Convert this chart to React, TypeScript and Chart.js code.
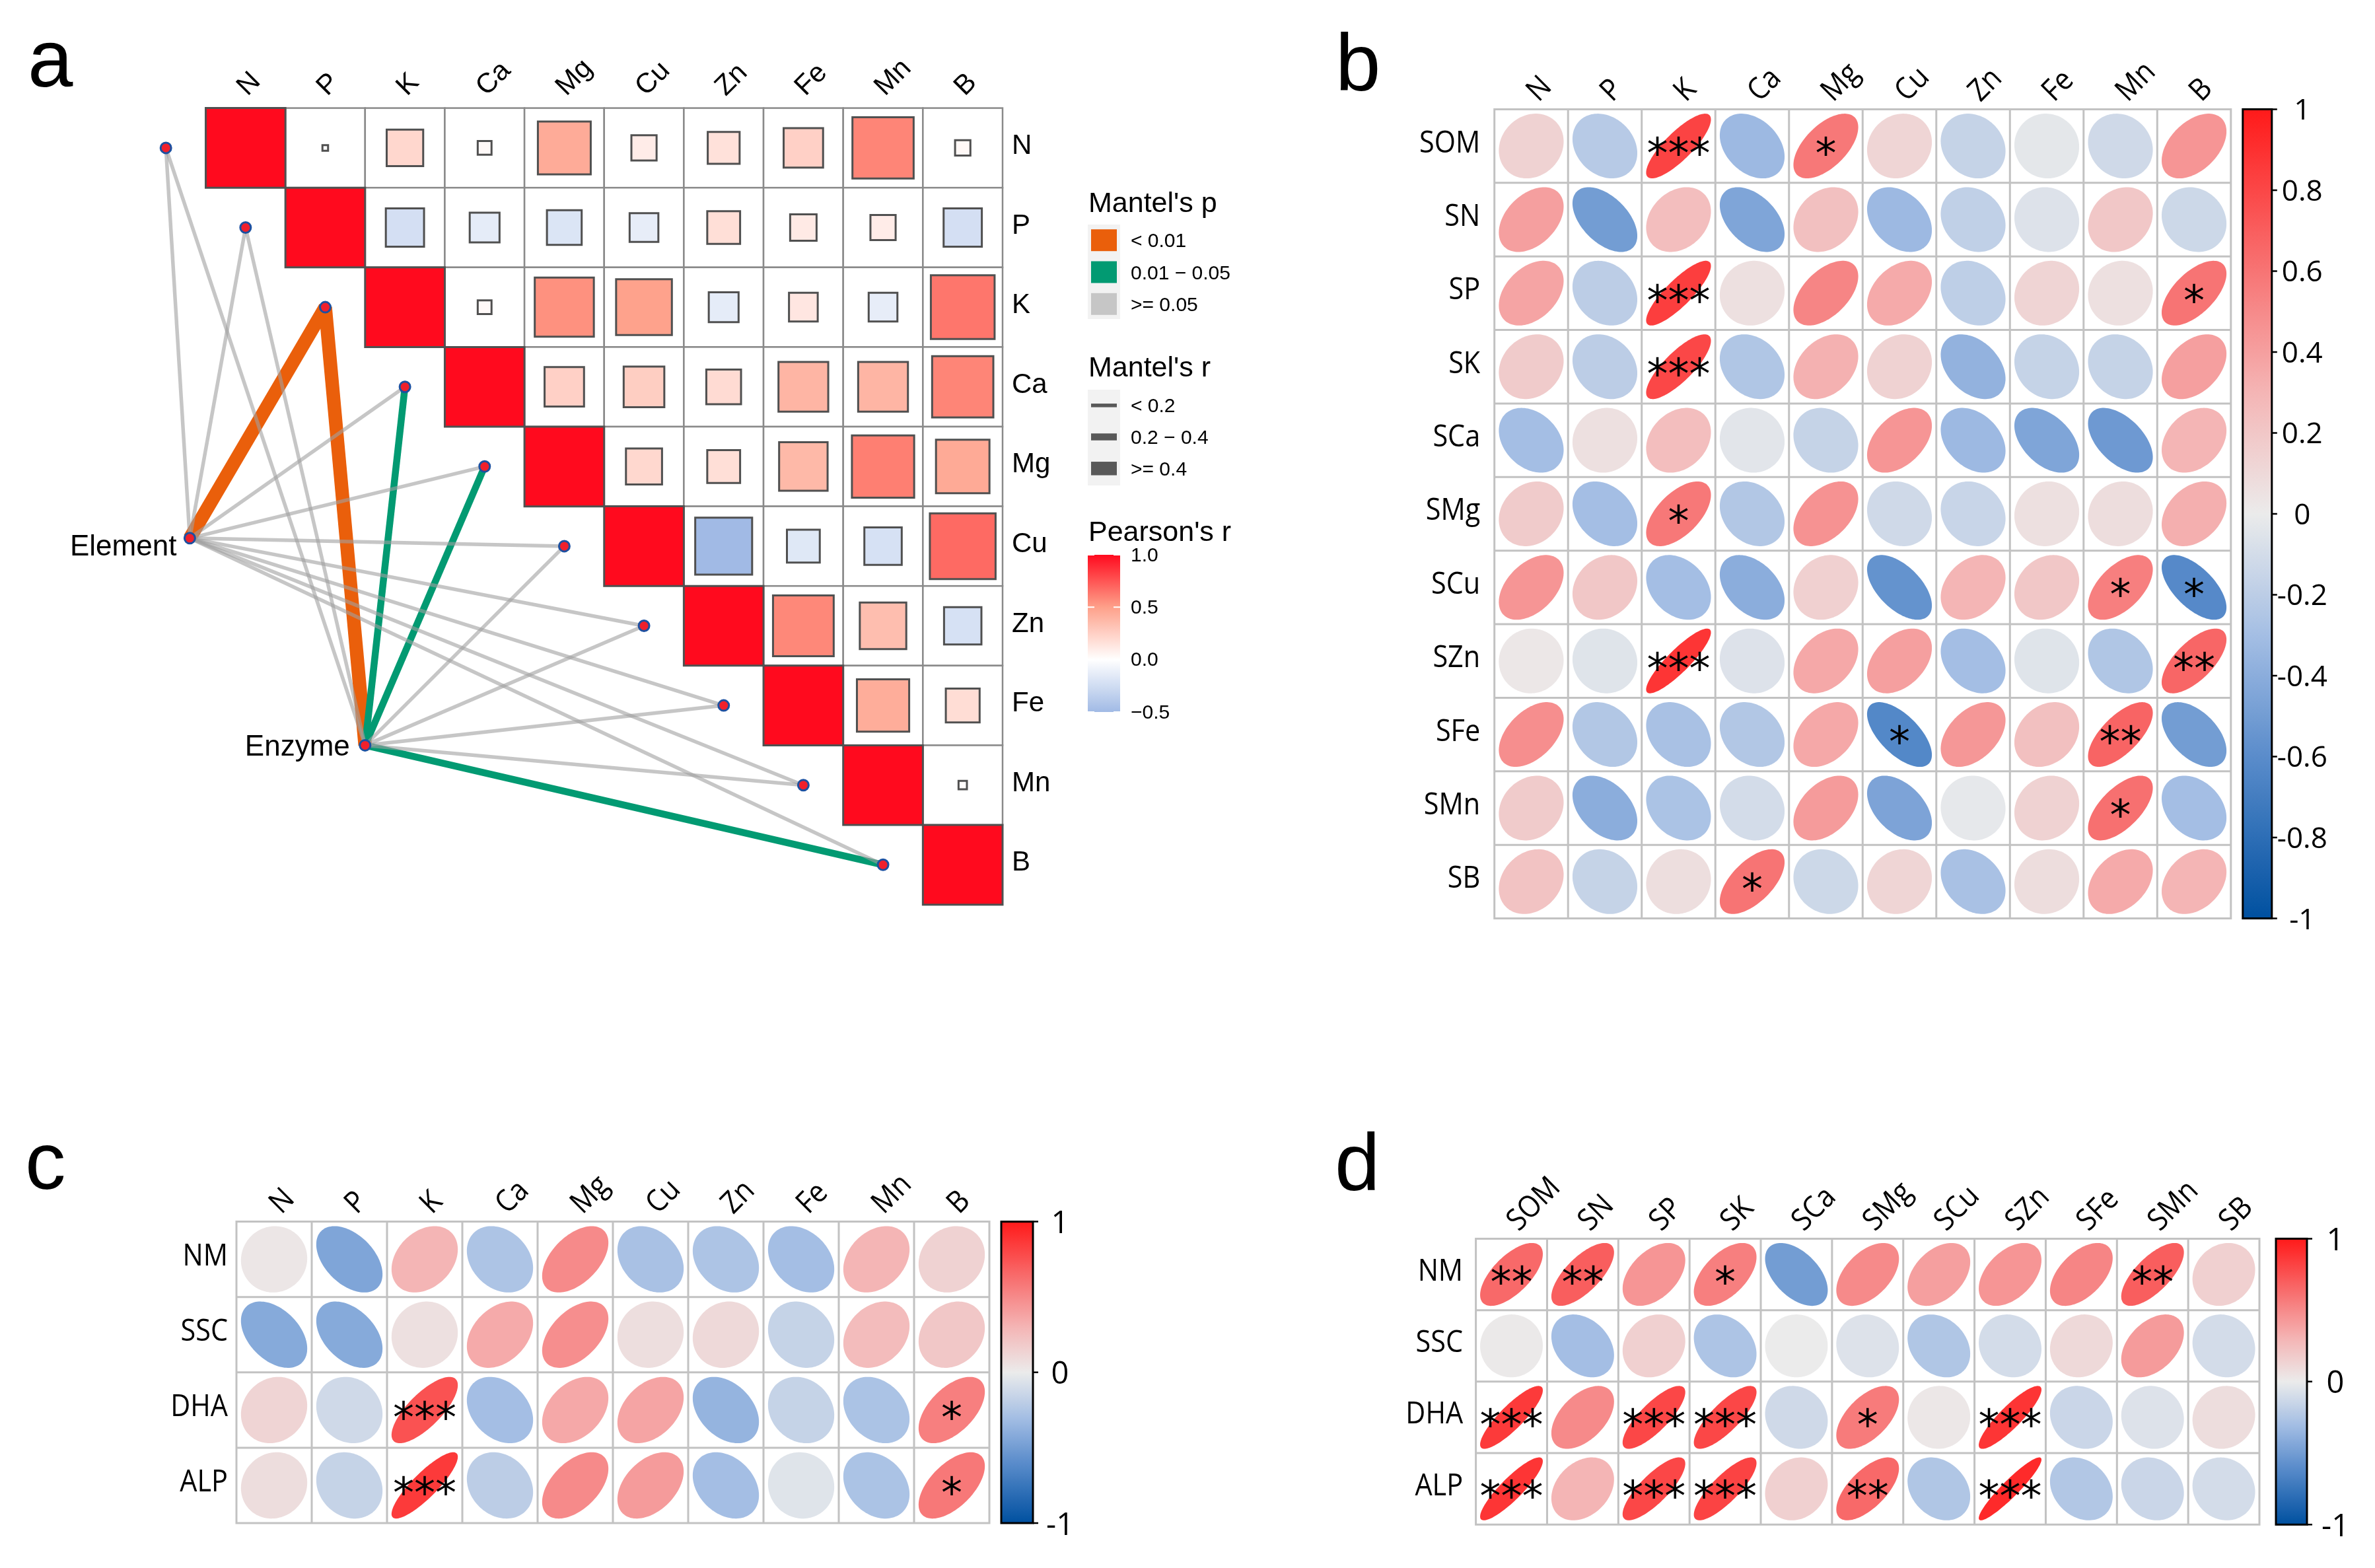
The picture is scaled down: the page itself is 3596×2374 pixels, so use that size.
import React, { useEffect, useRef } from 'react';
import { Chart, registerables } from 'chart.js';

Chart.register(...registerables);

// ======================= DATA =======================
// ---- panel a: Pearson's r among soil elements (upper triangle; each row starts at its diagonal)
const elementNames = ['N', 'P', 'K', 'Ca', 'Mg', 'Cu', 'Zn', 'Fe', 'Mn', 'B'];
const pearsonRowN = [1, 0.005, 0.21, 0.03, 0.44, 0.1, 0.16, 0.245, 0.59, 0.037];
const pearsonRowP = [1, -0.23, -0.14, -0.19, -0.13, 0.17, 0.11, 0.1, -0.23];
const pearsonRowK = [1, 0.03, 0.55, 0.49, -0.14, 0.13, -0.13, 0.64];
const pearsonRowCa = [1, 0.245, 0.26, 0.19, 0.39, 0.39, 0.59];
const pearsonRowMg = [1, 0.205, 0.17, 0.37, 0.61, 0.45];
const pearsonRowCu = [1, -0.51, -0.17, -0.22, 0.68];
const pearsonRowZn = [1, 0.58, 0.34, -0.22];
const pearsonRowFe = [1, 0.43, 0.18];
const pearsonRowMn = [1, 0.011];
const pearsonRowB = [1];

// ---- panel a: Mantel tests (class indices into the legend classes)
const mantelGroups = ['Element', 'Enzyme'];
const mantelPClasses = ['< 0.01', '0.01 \u2212 0.05', '>= 0.05'];
const mantelRClasses = ['< 0.2', '0.2 \u2212 0.4', '>= 0.4'];
const elementMantelP = [2, 2, 0, 2, 2, 2, 2, 2, 2, 2];
const elementMantelR = [0, 0, 2, 0, 0, 0, 0, 0, 0, 0];
const enzymeMantelP = [2, 2, 0, 1, 1, 2, 2, 2, 2, 1];
const enzymeMantelR = [0, 0, 2, 1, 1, 0, 0, 0, 0, 1];
const pearsonLegendTicks = [1, 0.5, 0, -0.5];
const pearsonLegendLabels = ['1.0', '0.5', '0.0', '\u22120.5'];

// ---- panel b: soil variables (rows) vs elements (cols)
const soilNames = ['SOM', 'SN', 'SP', 'SK', 'SCa', 'SMg', 'SCu', 'SZn', 'SFe', 'SMn', 'SB'];
const bSOM = [0.14, -0.22, 0.82, -0.33, 0.58, 0.12, -0.16, -0.03, -0.12, 0.45];
const bSN = [0.4, -0.5, 0.25, -0.45, 0.24, -0.33, -0.18, -0.06, 0.2, -0.13];
const bSP = [0.38, -0.2, 0.84, 0.06, 0.52, 0.35, -0.19, 0.13, 0.06, 0.6];
const bSK = [0.18, -0.2, 0.8, -0.25, 0.32, 0.14, -0.37, -0.16, -0.16, 0.4];
const bSCa = [-0.3, 0.06, 0.25, -0.04, -0.16, 0.45, -0.33, -0.45, -0.52, 0.3];
const bSMg = [0.18, -0.3, 0.58, -0.24, 0.46, -0.12, -0.15, 0.06, 0.08, 0.33];
const bSCu = [0.45, 0.2, -0.3, -0.4, 0.15, -0.56, 0.3, 0.2, 0.55, -0.62];
const bSZn = [0.02, -0.05, 0.88, -0.06, 0.36, 0.4, -0.3, -0.05, -0.25, 0.66];
const bSFe = [0.48, -0.24, -0.28, -0.24, 0.36, -0.63, 0.44, 0.24, 0.67, -0.5];
const bSMn = [0.18, -0.4, -0.27, -0.1, 0.42, -0.46, -0.02, 0.14, 0.62, -0.3];
const bSB = [0.22, -0.16, 0.07, 0.6, -0.13, 0.12, -0.28, 0.08, 0.35, 0.3];
const bSignif = [
  ['SOM', 'K', '***'], ['SOM', 'Mg', '*'], ['SP', 'K', '***'], ['SP', 'B', '*'],
  ['SK', 'K', '***'], ['SMg', 'K', '*'], ['SCu', 'Mn', '*'], ['SCu', 'B', '*'],
  ['SZn', 'K', '***'], ['SZn', 'B', '**'], ['SFe', 'Cu', '*'], ['SFe', 'Mn', '**'],
  ['SMn', 'Mn', '*'], ['SB', 'Ca', '*'],
];
const bColorbarTicks = [1, 0.8, 0.6, 0.4, 0.2, 0, -0.2, -0.4, -0.6, -0.8, -1];

// ---- panel c: plant traits (rows) vs elements (cols)
const traitNames = ['NM', 'SSC', 'DHA', 'ALP'];
const cNM = [0.03, -0.45, 0.3, -0.26, 0.5, -0.28, -0.26, -0.3, 0.3, 0.14];
const cSSC = [-0.42, -0.42, 0.06, 0.35, 0.48, 0.07, 0.1, -0.16, 0.26, 0.2];
const cDHA = [0.13, -0.12, 0.75, -0.3, 0.36, 0.38, -0.36, -0.16, -0.27, 0.55];
const cALP = [0.08, -0.16, 0.86, -0.2, 0.5, 0.42, -0.3, -0.05, -0.27, 0.58];
const cSignif = [['DHA', 'K', '***'], ['DHA', 'B', '*'], ['ALP', 'K', '***'], ['ALP', 'B', '*']];

// ---- panel d: plant traits (rows) vs soil variables (cols)
const dNM = [0.65, 0.7, 0.45, 0.55, -0.5, 0.5, 0.4, 0.45, 0.52, 0.7, 0.15];
const dSSC = [0.01, -0.3, 0.15, -0.26, 0.0, -0.06, -0.25, -0.1, 0.1, 0.42, -0.1];
const dDHA = [0.86, 0.5, 0.8, 0.8, -0.12, 0.57, 0.02, 0.88, -0.14, -0.06, 0.08];
const dALP = [0.88, 0.3, 0.8, 0.82, 0.15, 0.65, -0.25, 0.93, -0.24, -0.14, -0.1];
const dSignif = [
  ['NM', 'SOM', '**'], ['NM', 'SN', '**'], ['NM', 'SK', '*'], ['NM', 'SMn', '**'],
  ['DHA', 'SOM', '***'], ['DHA', 'SP', '***'], ['DHA', 'SK', '***'], ['DHA', 'SMg', '*'], ['DHA', 'SZn', '***'],
  ['ALP', 'SOM', '***'], ['ALP', 'SP', '***'], ['ALP', 'SK', '***'], ['ALP', 'SMg', '**'], ['ALP', 'SZn', '***'],
];
const cdColorbarTicks = [1, 0, -1];

// ======================= STYLE / LAYOUT =======================
const FONT_A = '"Liberation Sans", Arial, sans-serif';
const FONT_C = '"Open Sans", "Noto Sans", sans-serif';
const FONT_STAR = '"DejaVu Sans", sans-serif';

type RGB = [number, number, number];
const CORR_STOPS: Array<[number, RGB]> = [
  [-1, [0, 80, 160]], [-0.6, [90, 140, 203]], [-0.3, [164, 190, 228]], [0, [235, 235, 235]],
  [0.3, [244, 181, 181]], [0.6, [247, 116, 116]], [1, [255, 26, 26]],
];
const LINK_STOPS: Array<[number, RGB]> = [
  [-0.5, [161, 186, 229]], [0, [255, 255, 255]], [0.5, [254, 160, 138]], [1, [255, 10, 30]],
];
const EDGE_COLORS = ['#EA5F0B', '#029A72', 'rgba(160,160,160,0.6)'];
const KEY_COLORS = ['#EA5F0B', '#029A72', '#C6C6C6'];
const EDGE_WIDTHS = [5.5, 10.5, 20.5];
// anchor nodes of the Mantel network, in matrix cell units
const ANCHORS: Record<string, { x: number; y: number }> = {
  Element: { x: -0.2, y: 5.4 },
  Enzyme: { x: 2.0, y: 8.0 },
};

function ramp(stops: Array<[number, RGB]>, v: number): string {
  const t = Math.max(stops[0][0], Math.min(stops[stops.length - 1][0], v));
  for (let k = 0; k < stops.length - 1; k++) {
    const [a, ca] = stops[k];
    const [b, cb] = stops[k + 1];
    if (t >= a && t <= b) {
      const f = (t - a) / (b - a);
      const c = ca.map((x, i) => Math.round(x + (cb[i] - x) * f));
      return `rgb(${c[0]},${c[1]},${c[2]})`;
    }
  }
  const c = stops[stops.length - 1][1];
  return `rgb(${c[0]},${c[1]},${c[2]})`;
}

// ======================= PANEL A =======================
const panelAPlugin = {
  id: 'panelA',
  beforeDatasetsDraw(chart: any) {
    const { ctx } = chart;
    const xs = chart.scales.x;
    const ys = chart.scales.y;
    const n = elementNames.length;
    ctx.save();
    ctx.lineWidth = 2.5;
    ctx.strokeStyle = '#8A8A8A';
    ctx.fillStyle = '#ffffff';
    for (let i = 0; i < n; i++) {
      for (let j = i + 1; j < n; j++) {
        const x0 = xs.getPixelForValue(j);
        const x1 = xs.getPixelForValue(j + 1);
        const y0 = ys.getPixelForValue(i);
        const y1 = ys.getPixelForValue(i + 1);
        ctx.fillRect(x0, y0, x1 - x0, y1 - y0);
        ctx.strokeRect(x0, y0, x1 - x0, y1 - y0);
      }
    }
    ctx.restore();
  },
  afterDatasetsDraw(chart: any) {
    const { ctx } = chart;
    const xs = chart.scales.x;
    const ys = chart.scales.y;
    const gridTop = ys.getPixelForValue(0);
    const gridRight = xs.getPixelForValue(elementNames.length);
    ctx.save();
    ctx.fillStyle = '#000';
    // column labels (rotated)
    ctx.font = `42px ${FONT_A}`;
    ctx.textAlign = 'left';
    ctx.textBaseline = 'alphabetic';
    elementNames.forEach((name, j) => {
      const cx = xs.getPixelForValue(j + 0.5);
      ctx.save();
      ctx.translate(cx + 3, gridTop - 17);
      ctx.rotate(-Math.PI / 4);
      ctx.fillText(name, 0, 0);
      ctx.restore();
    });
    // row labels
    elementNames.forEach((name, i) => {
      const cy = ys.getPixelForValue(i + 0.5);
      ctx.fillText(name, gridRight + 14, cy + 9);
    });
    // group labels
    ctx.font = `44px ${FONT_A}`;
    ctx.textAlign = 'right';
    const e = ANCHORS.Element;
    ctx.fillText('Element', xs.getPixelForValue(e.x) - 20, ys.getPixelForValue(e.y) + 26);
    const z = ANCHORS.Enzyme;
    ctx.fillText('Enzyme', xs.getPixelForValue(z.x) - 23, ys.getPixelForValue(z.y) + 16);

    // ---------------- legend ----------------
    const LX = 1647;
    ctx.textAlign = 'left';
    ctx.font = `43px ${FONT_A}`;
    ctx.fillText("Mantel's p", LX + 1, 321);
    ctx.fillText("Mantel's r", LX + 1, 570);
    ctx.fillText("Pearson's r", LX + 1, 819);
    ctx.fillStyle = '#F2F2F2';
    ctx.fillRect(LX, 340, 49, 143);
    ctx.fillRect(LX, 590, 49, 145);
    ctx.font = `30px ${FONT_A}`;
    const pCenters = [363.7, 412, 460.3];
    mantelPClasses.forEach((lab, k) => {
      ctx.fillStyle = KEY_COLORS[k];
      ctx.fillRect(LX + 5, pCenters[k] - 16.5, 39, 33);
      ctx.fillStyle = '#000';
      ctx.fillText(lab, 1712, pCenters[k] + 10.5);
    });
    const rCenters = [613.8, 661.5, 709.3];
    mantelRClasses.forEach((lab, k) => {
      ctx.fillStyle = '#595959';
      ctx.fillRect(LX + 5, rCenters[k] - EDGE_WIDTHS[k] / 2, 39, EDGE_WIDTHS[k]);
      ctx.fillStyle = '#000';
      ctx.fillText(lab, 1712, rCenters[k] + 10.5);
    });
    // Pearson colour bar
    const cbTop = 840;
    const cbBot = 1078;
    const vy = (v: number) => cbTop + ((1 - v) / 1.5) * (cbBot - cbTop);
    const grad = ctx.createLinearGradient(0, cbTop, 0, cbBot);
    for (let k = 0; k <= 30; k++) {
      const v = 1 - (k / 30) * 1.5;
      grad.addColorStop(k / 30, ramp(LINK_STOPS, v));
    }
    ctx.fillStyle = grad;
    ctx.fillRect(LX, cbTop, 49, cbBot - cbTop);
    ctx.strokeStyle = '#ffffff';
    ctx.lineWidth = 2;
    pearsonLegendTicks.forEach((t) => {
      const y = vy(t);
      ctx.beginPath();
      ctx.moveTo(LX, y); ctx.lineTo(LX + 10, y);
      ctx.moveTo(LX + 39, y); ctx.lineTo(LX + 49, y);
      ctx.stroke();
    });
    ctx.fillStyle = '#000';
    pearsonLegendTicks.forEach((t, k) => {
      ctx.fillText(pearsonLegendLabels[k], 1712, vy(t) + 9.5);
    });

    // panel letter
    ctx.font = `123px ${FONT_A}`;
    ctx.fillText('a', 42, 131);
    ctx.restore();
  },
};

function buildPanelA(canvas: HTMLCanvasElement) {
  const rows = [pearsonRowN, pearsonRowP, pearsonRowK, pearsonRowCa, pearsonRowMg,
    pearsonRowCu, pearsonRowZn, pearsonRowFe, pearsonRowMn, pearsonRowB];
  const cells: any[] = [];
  rows.forEach((row, i) => row.forEach((v, k) => {
    cells.push({ x: i + k + 0.5, y: i + 0.5, v, diag: k === 0 });
  }));
  const nodes = elementNames.map((_, i) => ({ x: i - 0.5, y: i + 0.5 }));
  const pClasses = [elementMantelP, enzymeMantelP];
  const rClasses = [elementMantelR, enzymeMantelR];
  const edges: any[] = [];
  mantelGroups.forEach((g, gi) => {
    nodes.forEach((nd, i) => {
      edges.push({ from: ANCHORS[g], to: nd, p: pClasses[gi][i], r: rClasses[gi][i] });
    });
  });
  // significant links underneath, grey links on top (translucent)
  const ordered = [...edges.filter((e) => e.p !== 2), ...edges.filter((e) => e.p === 2)];
  const edgeSets = ordered.map((e, k) => ({
    type: 'line',
    data: [{ x: e.from.x, y: e.from.y }, { x: e.to.x, y: e.to.y }],
    borderColor: EDGE_COLORS[e.p],
    borderWidth: EDGE_WIDTHS[e.r],
    borderCapStyle: 'butt',
    pointRadius: 0,
    showLine: true,
    tension: 0,
    clip: false,
    order: 1000 - k,
  }));
  const cellSize = (c: any) => {
    const xs = c.chart.scales.x;
    return xs.getPixelForValue(1) - xs.getPixelForValue(0);
  };
  const squareSet = {
    type: 'scatter',
    data: cells,
    pointStyle: 'rect',
    pointRadius: (c: any) => (c.raw ? (Math.sqrt(Math.abs(c.raw.v)) * cellSize(c)) / Math.SQRT2 : 0),
    pointBackgroundColor: (c: any) => (c.raw ? ramp(LINK_STOPS, c.raw.v) : '#fff'),
    pointBorderColor: '#505050',
    pointBorderWidth: 3,
    clip: false,
    order: 5000,
  };
  const nodeSet = {
    type: 'scatter',
    data: [...nodes.map((p) => ({ ...p })), ...mantelGroups.map((g) => ({ ...ANCHORS[g] }))],
    pointStyle: 'circle',
    pointRadius: 8,
    pointBackgroundColor: '#F0202C',
    pointBorderColor: '#1D50A0',
    pointBorderWidth: 3,
    clip: false,
    order: 0,
  };
  // x range starts left of the matrix so the network nodes lie inside the chart area
  return new Chart(canvas, {
    type: 'scatter',
    data: { datasets: [squareSet, ...edgeSets, nodeSet] as any },
    options: {
      responsive: false,
      animation: false,
      events: [],
      layout: { padding: { left: 9.875, top: 163.6, right: 472, bottom: 80.4 }, autoPadding: false } as any,
      scales: {
        x: { type: 'linear', min: -2.5, max: 10, display: false },
        y: { type: 'linear', min: 0, max: 10, reverse: true, display: false },
      },
      plugins: { legend: { display: false }, tooltip: { enabled: false } },
    } as any,
    plugins: [panelAPlugin],
  });
}

// ======================= PANELS B, C, D =======================
interface CorrSpec {
  letter: string; letterX: number; letterY: number;
  rowNames: string[]; colNames: string[]; values: number[][]; signif: string[][];
  pad: { left: number; top: number; right: number; bottom: number };
  rowGap: number; cbOffset: number; cbWidth: number; cbLabelOffset: number; cbFont: number; cbTicks: number[];
}

function drawEllipse(ctx: CanvasRenderingContext2D, cx: number, cy: number, rx: number, ry: number, r: number) {
  const d = Math.acos(Math.max(-1, Math.min(1, r)));
  ctx.beginPath();
  const N = 120;
  for (let k = 0; k <= N; k++) {
    const t = (k / N) * Math.PI * 2;
    const px = cx + rx * Math.cos(t + d / 2);
    const py = cy - ry * Math.cos(t - d / 2);
    if (k === 0) ctx.moveTo(px, py); else ctx.lineTo(px, py);
  }
  ctx.closePath();
  ctx.fillStyle = ramp(CORR_STOPS, r);
  ctx.fill();
}

function corrPlugin(spec: CorrSpec) {
  return {
    id: 'corr_' + spec.letter,
    beforeDatasetsDraw(chart: any) {
      const { ctx, chartArea: area } = chart;
      const xs = chart.scales.x;
      const ys = chart.scales.y;
      ctx.save();
      ctx.fillStyle = '#fff';
      ctx.fillRect(area.left, area.top, area.right - area.left, area.bottom - area.top);
      ctx.strokeStyle = '#C2C2C2';
      ctx.lineWidth = 3;
      ctx.lineCap = 'square';
      ctx.beginPath();
      for (let j = 0; j <= spec.colNames.length; j++) {
        const x = xs.getPixelForValue(j);
        ctx.moveTo(x, area.top); ctx.lineTo(x, area.bottom);
      }
      for (let i = 0; i <= spec.rowNames.length; i++) {
        const y = ys.getPixelForValue(i);
        ctx.moveTo(area.left, y); ctx.lineTo(area.right, y);
      }
      ctx.stroke();
      ctx.restore();
    },
    afterDatasetsDraw(chart: any) {
      const { ctx, chartArea: area } = chart;
      const xs = chart.scales.x;
      const ys = chart.scales.y;
      const cb = chart.scales.cb;
      const meta = chart.getDatasetMeta(0);
      const raw = chart.data.datasets[0].data;
      const cw = xs.getPixelForValue(1) - xs.getPixelForValue(0);
      const ch = Math.abs(ys.getPixelForValue(1) - ys.getPixelForValue(0));
      ctx.save();
      meta.data.forEach((el: any, k: number) => {
        drawEllipse(ctx, el.x, el.y, 0.44 * cw, 0.44 * ch, raw[k].v);
      });
      // significance stars
      ctx.fillStyle = '#000';
      ctx.font = `64px ${FONT_STAR}`;
      ctx.textAlign = 'center';
      ctx.textBaseline = 'alphabetic';
      const sm = ctx.measureText('*');
      const sOff = (sm.actualBoundingBoxAscent - sm.actualBoundingBoxDescent) / 2;
      meta.data.forEach((el: any, k: number) => {
        if (raw[k].s) ctx.fillText(raw[k].s, el.x, el.y + sOff);
      });
      // row labels
      ctx.font = `46px ${FONT_C}`;
      ctx.textAlign = 'right';
      spec.rowNames.forEach((name, i) => {
        const cy = ys.getPixelForValue(i + 0.5);
        ctx.save();
        ctx.translate(area.left - spec.rowGap, cy + 9.5);
        ctx.scale(0.9, 1);
        ctx.fillText(name, 0, 0);
        ctx.restore();
      });
      // column labels
      ctx.textAlign = 'left';
      spec.colNames.forEach((name, j) => {
        const cx = xs.getPixelForValue(j + 0.5);
        ctx.save();
        ctx.translate(cx + 11, area.top - 10);
        ctx.rotate(-Math.PI / 4);
        ctx.scale(0.9, 1);
        ctx.fillText(name, 0, 0);
        ctx.restore();
      });
      // colour bar
      const bx = area.right + spec.cbOffset;
      const bw = spec.cbWidth;
      const yTop = cb.getPixelForValue(1);
      const yBot = cb.getPixelForValue(-1);
      const grad = ctx.createLinearGradient(0, yTop, 0, yBot);
      for (let k = 0; k <= 40; k++) grad.addColorStop(k / 40, ramp(CORR_STOPS, 1 - k / 20));
      ctx.fillStyle = grad;
      ctx.fillRect(bx, yTop, bw, yBot - yTop);
      ctx.strokeStyle = '#000';
      ctx.lineWidth = 3;
      ctx.strokeRect(bx, yTop, bw, yBot - yTop);
      ctx.lineWidth = 2.5;
      ctx.beginPath();
      spec.cbTicks.forEach((t) => {
        const y = cb.getPixelForValue(t);
        ctx.moveTo(bx + bw, y); ctx.lineTo(bx + bw + 8, y);
      });
      ctx.stroke();
      ctx.fillStyle = '#000';
      ctx.font = `${spec.cbFont}px ${FONT_C}`;
      ctx.textAlign = 'center';
      const capH = ctx.measureText('0').actualBoundingBoxAscent;
      spec.cbTicks.forEach((t) => {
        const y = cb.getPixelForValue(t);
        ctx.fillText(String(t), bx + bw + spec.cbLabelOffset, y + capH / 2);
      });
      // panel letter
      ctx.textAlign = 'left';
      ctx.font = `123px ${FONT_A}`;
      ctx.fillText(spec.letter, spec.letterX, spec.letterY);
      ctx.restore();
    },
  };
}

function buildCorr(canvas: HTMLCanvasElement, spec: CorrSpec) {
  const data: any[] = [];
  spec.values.forEach((row, i) => row.forEach((v, j) => {
    const hit = spec.signif.find((s) => s[0] === spec.rowNames[i] && s[1] === spec.colNames[j]);
    data.push({ x: j + 0.5, y: i + 0.5, v, s: hit ? hit[2] : '' });
  }));
  return new Chart(canvas, {
    type: 'scatter',
    data: { datasets: [{ data, pointRadius: 0, clip: false } as any] },
    options: {
      responsive: false,
      animation: false,
      events: [],
      layout: { padding: spec.pad, autoPadding: false } as any,
      scales: {
        x: { type: 'linear', min: 0, max: spec.colNames.length, display: false },
        y: { type: 'linear', min: 0, max: spec.rowNames.length, reverse: true, display: false },
        cb: { type: 'linear', axis: 'y', min: -1, max: 1, display: false },
      },
      plugins: { legend: { display: false }, tooltip: { enabled: false } },
    } as any,
    plugins: [corrPlugin(spec)],
  });
}

const specB: CorrSpec = {
  letter: 'b', letterX: 22, letterY: 137,
  rowNames: soilNames, colNames: elementNames,
  values: [bSOM, bSN, bSP, bSK, bSCa, bSMg, bSCu, bSZn, bSFe, bSMn, bSB], signif: bSignif,
  pad: { left: 262.7, top: 165.4, right: 218.2, bottom: 29.5 },
  rowGap: 21.5, cbOffset: 18, cbWidth: 44, cbLabelOffset: 46, cbFont: 44, cbTicks: bColorbarTicks,
};
const specC: CorrSpec = {
  letter: 'c', letterX: 38, letterY: 100,
  rowNames: traitNames, colNames: elementNames,
  values: [cNM, cSSC, cDHA, cALP], signif: cSignif,
  pad: { left: 358, top: 149.6, right: 202, bottom: 68 },
  rowGap: 13, cbOffset: 18, cbWidth: 48, cbLabelOffset: 41, cbFont: 47, cbTicks: cdColorbarTicks,
};
const specD: CorrSpec = {
  letter: 'd', letterX: 41, letterY: 102,
  rowNames: traitNames, colNames: soilNames,
  values: [dNM, dSSC, dDHA, dALP], signif: dSignif,
  pad: { left: 254.6, top: 175.4, right: 175, bottom: 65.7 },
  rowGap: 19.5, cbOffset: 25, cbWidth: 47, cbLabelOffset: 43, cbFont: 47, cbTicks: cdColorbarTicks,
};

// ======================= APP =======================
export default function App() {
  const refA = useRef<HTMLCanvasElement>(null);
  const refB = useRef<HTMLCanvasElement>(null);
  const refC = useRef<HTMLCanvasElement>(null);
  const refD = useRef<HTMLCanvasElement>(null);

  useEffect(() => {
    document.body.style.margin = '0';
    const charts = [
      buildPanelA(refA.current!),
      buildCorr(refB.current!, specB),
      buildCorr(refC.current!, specC),
      buildCorr(refD.current!, specD),
    ];
    let alive = true;
    const fonts = [`42px ${FONT_A}`, `46px ${FONT_C}`, `64px ${FONT_STAR}`];
    Promise.all(fonts.map((f) => (document as any).fonts.load(f)))
      .then(() => { if (alive) charts.forEach((c) => c.render()); })
      .catch(() => {});
    return () => {
      alive = false;
      charts.forEach((c) => c.destroy());
    };
  }, []);

  const abs = (left: number, top: number) => ({ position: 'absolute' as const, left, top });
  return (
    <div style={{ position: 'absolute', left: 0, top: 0, width: 3596, height: 2374, background: '#ffffff', overflow: 'hidden' }}>
      <canvas ref={refA} width={1990} height={1450} style={abs(0, 0)} />
      <canvas ref={refB} width={1596} height={1420} style={abs(2000, 0)} />
      <canvas ref={refC} width={1700} height={674} style={abs(0, 1700)} />
      <canvas ref={refD} width={1616} height={674} style={abs(1980, 1700)} />
    </div>
  );
}
